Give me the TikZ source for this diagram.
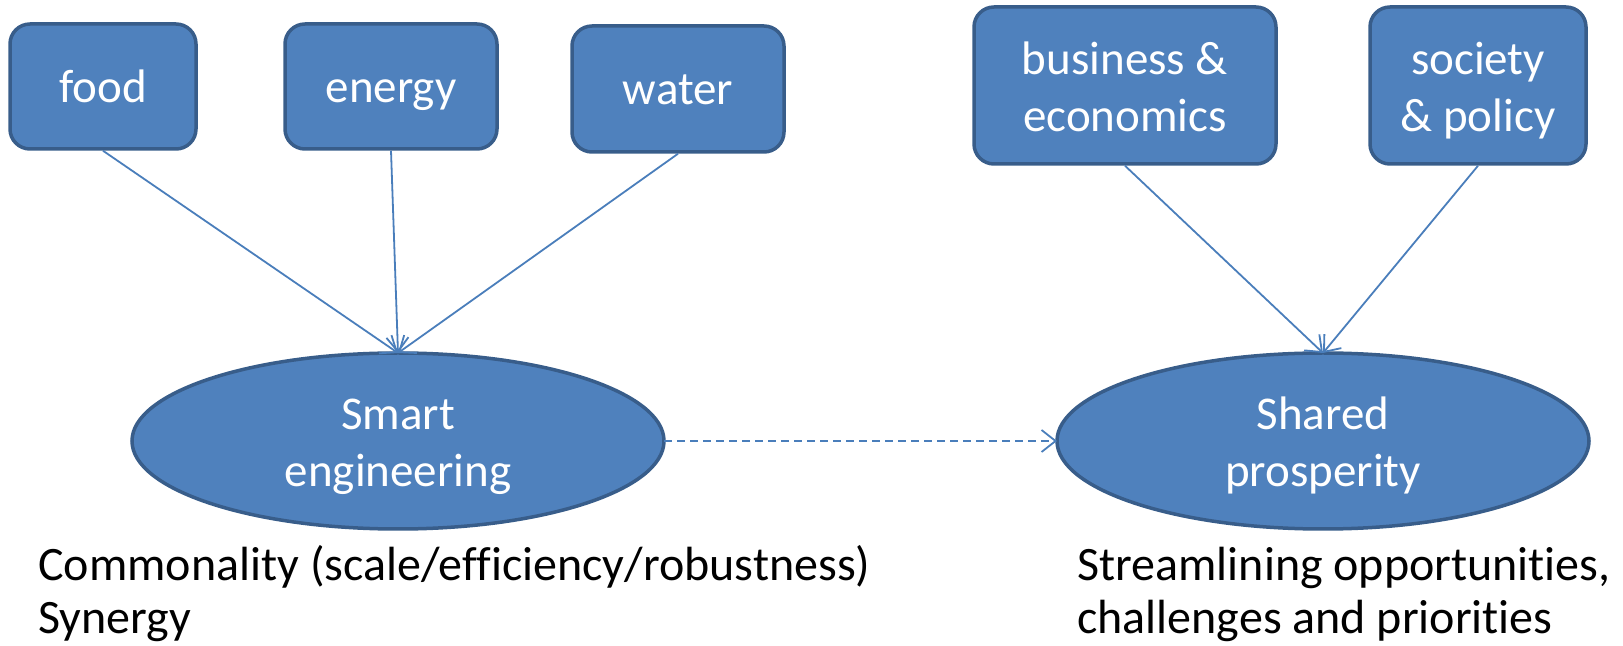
\documentclass[tikz,border=0pt]{standalone}
\usepackage{fontspec}
\setmainfont{Carlito}[Ligatures=NoCommon]
\usepackage{tikz}
\usetikzlibrary{positioning}
\usetikzlibrary{calc,arrows.meta}
\usetikzlibrary{shapes.geometric}

\definecolor{BoxFill}{HTML}{4F81BD}
\definecolor{BoxLine}{HTML}{385D8A}
\definecolor{LinkLine}{HTML}{4A7EBB}

\tikzset{
	topic/.style={draw=BoxLine, fill=BoxFill, line width=1.75pt, rounded corners=10pt,
		text=white, align=center, inner sep=0pt,
		font=\fontsize{23.5}{28.5}\selectfont,
		text height=18.2pt, text depth=2.5pt},
	twolines/.style={text height=50pt, text depth=4pt},
	goal/.style={ellipse, draw=BoxLine, fill=BoxFill, line width=1.75pt,
		text=white, align=center, inner sep=0pt, outer sep=0pt,
		minimum width=266pt, minimum height=88pt,
		font=\fontsize{23.5}{28.5}\selectfont, twolines},
	link/.style={draw=LinkLine, line width=0.9pt,
		-{Straight Barb[length=7pt, width=11pt]}},
	remark/.style={anchor=base west, align=left, inner sep=0pt,
		font=\fontsize{24}{26.5}\selectfont},
}

\begin{document}
\begin{tikzpicture}[x=0.5pt, y=-0.5pt]
	
	% page frame, in pixels of the original slide (y runs downwards)
	\useasboundingbox (0,0) rectangle (1623,646);
	
	% the two targets
	\node[goal] (Smart)  at (398,441)  {Smart\\engineering};
	\node[goal] (Shared) at (1323,441) {Shared\\prosperity};
	
	% the inputs, left group
	\node[topic, minimum width=93pt,  minimum height=62.5pt] (Food)   at (103,86.5) {food};
	\node[topic, minimum width=106pt, minimum height=62.5pt] (Energy) at (391,86.5) {energy};
	\node[topic, minimum width=106pt, minimum height=63pt]   (Water)  at (678,89)   {water};
	
	% the inputs, right group
	\node[topic, twolines, minimum width=151pt, minimum height=78.5pt] (Business) at (1125,85.5) {business \&\\economics};
	\node[topic, twolines, minimum width=108pt, minimum height=78.5pt] (Society)  at (1478,85.5) {society\\\& policy};
	
	% notes under the ellipses (base = last line)
	\node[remark] (SmartLabel)  at (38,633)   {Commonality (scale/efficiency/robustness)\\Synergy};
	\node[remark] (SharedLabel) at (1077,633) {Streamlining opportunities,\\challenges and priorities};
	
	%%%%%%%%%%%%%%%%%%%%%%%%%%%%%%%%%%%%%%%%%%%%%%%%%%%%%%%%%%%%%%
	% connectors
	\foreach \src in {Food, Energy, Water}
		\draw[link] (\src.south) -- (Smart.north);
	\foreach \src in {Business, Society}
		\draw[link] (\src.south) -- (Shared.north);
	
	\draw[link, dash pattern=on 4pt off 2.5pt] (Smart.east) -- (Shared.west);
	
\end{tikzpicture}
\end{document}
